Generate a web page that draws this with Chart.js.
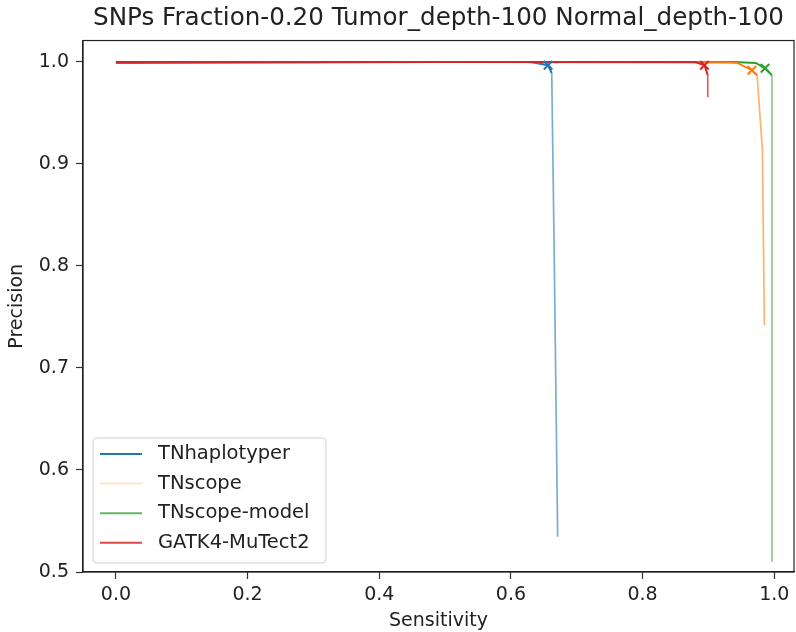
<!DOCTYPE html>
<html>
<head>
<meta charset="utf-8">
<script src="https://cdn.jsdelivr.net/npm/chart.js@4.4.1/dist/chart.umd.min.js"></script>
<style>
  html, body { margin: 0; padding: 0; background: #fff; }
</style>
</head>
<body>
<canvas id="prChart" width="796" height="632"></canvas>
<script>
// 데이터: 그림에서 읽은 값 (sensitivity / precision)
const SERIES_NAMES = ["TNhaplotyper", "TNscope", "TNscope-model", "GATK4-MuTect2"];

const TNHAP_SENS = [0.0, 0.3, 0.63, 0.6565, 0.662, 0.666, 0.671];
const TNHAP_PREC = [1.0, 1.0, 1.0, 0.9968, 0.989, 0.80, 0.5345];

const TNSCOPE_SENS = [0.0, 0.5, 0.93, 0.944, 0.966, 0.974, 0.982, 0.985];
const TNSCOPE_PREC = [1.0, 1.0, 0.9995, 0.999, 0.9919, 0.987, 0.9135, 0.742];

const MODEL_SENS = [0.0, 0.02, 0.5, 0.94, 0.972, 0.986, 0.9965, 0.9965];
const MODEL_PREC = [0.999, 0.999, 1.0, 1.0, 0.999, 0.9938, 0.987, 0.51];

const GATK_SENS = [0.0, 0.5, 0.88, 0.894, 0.899, 0.899];
const GATK_PREC = [1.0, 1.0, 1.0, 0.9968, 0.987, 0.9654];

// x 표시 (임계값 지점)
const MARK_SENS = [0.6565, 0.966, 0.986, 0.894];
const MARK_PREC = [0.9968, 0.9919, 0.9938, 0.9968];

const X_TICKS = [0.0, 0.2, 0.4, 0.6, 0.8, 1.0];
const Y_TICKS = [0.5, 0.6, 0.7, 0.8, 0.9, 1.0];

const COLORS = ["#1f77b4", "#ff7f0e", "#2ca02c", "#d62728"];
const FADED = ["rgba(31,119,180,0.6)", "rgba(255,127,14,0.6)", "rgba(44,160,44,0.55)", "rgba(214,39,40,0.75)"];
const LEGEND_COLORS = ["#1f77b4", "rgba(255,127,14,0.22)", "rgba(44,160,44,0.75)", "rgba(214,39,40,0.85)"];
const DRAW_ORDER = [10, 8, 9, 7]; // 작을수록 위 — 빨강 맨 위, 주황이 초록 위
const FONT = "'DejaVu Sans', sans-serif";

const curves = [
  [TNHAP_SENS, TNHAP_PREC],
  [TNSCOPE_SENS, TNSCOPE_PREC],
  [MODEL_SENS, MODEL_PREC],
  [GATK_SENS, GATK_PREC],
];

function toPoints(xs, ys) {
  return xs.map((x, i) => ({ x: x, y: ys[i] }));
}

// 거의 수직인 구간은 원본처럼 흐리고 가늘게
function isSteep(ctx) {
  const dx = Math.abs(ctx.p1.x - ctx.p0.x);
  const dy = Math.abs(ctx.p1.y - ctx.p0.y);
  return dy > 20 && dy > dx * 4;
}

const datasets = curves.map((c, i) => ({
  label: SERIES_NAMES[i],
  data: toPoints(c[0], c[1]),
  borderColor: COLORS[i],
  backgroundColor: COLORS[i],
  borderWidth: 2,
  pointRadius: 0,
  tension: 0,
  showLine: true,
  order: DRAW_ORDER[i],
  segment: {
    borderColor: (ctx) => (isSteep(ctx) ? FADED[i] : undefined),
    borderWidth: (ctx) => (isSteep(ctx) ? 1.7 : undefined),
  },
}));

MARK_SENS.forEach((s, i) => {
  datasets.push({
    label: "_mark" + i,
    data: [{ x: s, y: MARK_PREC[i] }],
    borderColor: COLORS[i],
    backgroundColor: COLORS[i],
    pointStyle: "crossRot",
    pointRadius: 6,
    pointBorderWidth: 2,
    showLine: false,
    order: 0,
  });
});

// 축 테두리 네 변 + 안쪽 왼쪽 아래 범례
const framePlugin = {
  id: "frame",
  afterDatasetsDraw(chart) {
    const { ctx, chartArea: a } = chart;
    ctx.save();
    ctx.strokeStyle = "#222";
    ctx.lineWidth = 1.2;
    ctx.strokeRect(a.left, a.top, a.right - a.left, a.bottom - a.top);
    ctx.restore();
  },
  afterDraw(chart) {
    const { ctx, chartArea: a } = chart;
    const bx = a.left + 10, by = a.bottom - 134, bw = 233, bh = 125;
    ctx.save();
    ctx.beginPath();
    ctx.roundRect(bx, by, bw, bh, 4);
    ctx.fillStyle = "rgba(255,255,255,0.8)";
    ctx.fill();
    ctx.strokeStyle = "#d0d0d0";
    ctx.lineWidth = 1;
    ctx.stroke();
    ctx.font = "19.5px " + FONT;
    ctx.textBaseline = "middle";
    SERIES_NAMES.forEach((name, i) => {
      const y = by + 16 + i * 29.6;
      ctx.strokeStyle = LEGEND_COLORS[i];
      ctx.lineWidth = 2;
      ctx.beginPath();
      ctx.moveTo(bx + 7, y);
      ctx.lineTo(bx + 49, y);
      ctx.stroke();
      ctx.fillStyle = "#222";
      ctx.fillText(name, bx + 65, y);
    });
    ctx.restore();
  },
};

const tickGrid = {
  display: true,
  drawOnChartArea: false,
  drawTicks: true,
  tickLength: 7,
  tickWidth: 1.2,
  tickColor: "#333",
};

new Chart(document.getElementById("prChart"), {
  type: "scatter",
  data: { datasets: datasets },
  options: {
    responsive: false,
    animation: false,
    devicePixelRatio: 1,
    layout: { autoPadding: false, padding: { left: 0, right: 2, top: 0, bottom: 0 } },
    scales: {
      x: {
        type: "linear",
        min: -0.05,
        max: 1.03,
        afterBuildTicks: (s) => { s.ticks = X_TICKS.map((v) => ({ value: v })); },
        afterFit: (s) => { s.height = 60; s.paddingLeft = 0; s.paddingRight = 0; },
        ticks: { callback: (v) => v.toFixed(1), padding: 5, color: "#222", font: { family: FONT, size: 19 } },
        grid: tickGrid,
        border: { display: true, color: "#222", width: 1.2 },
        title: { display: true, text: "Sensitivity", color: "#222", padding: { top: 0, bottom: 0 }, font: { family: FONT, size: 19 } },
      },
      y: {
        type: "linear",
        min: 0.5,
        max: 1.021,
        afterBuildTicks: (s) => { s.ticks = Y_TICKS.map((v) => ({ value: v })); },
        afterFit: (s) => { s.width = 83; s.paddingTop = 0; s.paddingBottom = 0; },
        ticks: { callback: (v) => v.toFixed(1), padding: 7, color: "#222", font: { family: FONT, size: 19 } },
        grid: tickGrid,
        border: { display: true, color: "#222", width: 1.2 },
        title: { display: true, text: "Precision", color: "#222", padding: { top: 6, bottom: 0 }, font: { family: FONT, size: 19 } },
      },
    },
    plugins: {
      legend: { display: false },
      tooltip: { enabled: false },
      title: {
        display: true,
        fullSize: false,
        text: "SNPs Fraction-0.20 Tumor_depth-100 Normal_depth-100",
        color: "#222",
        font: { family: FONT, size: 24.6, weight: "normal" },
        padding: { top: 4, bottom: 7 },
      },
    },
  },
  plugins: [framePlugin],
});
</script>
</body>
</html>
